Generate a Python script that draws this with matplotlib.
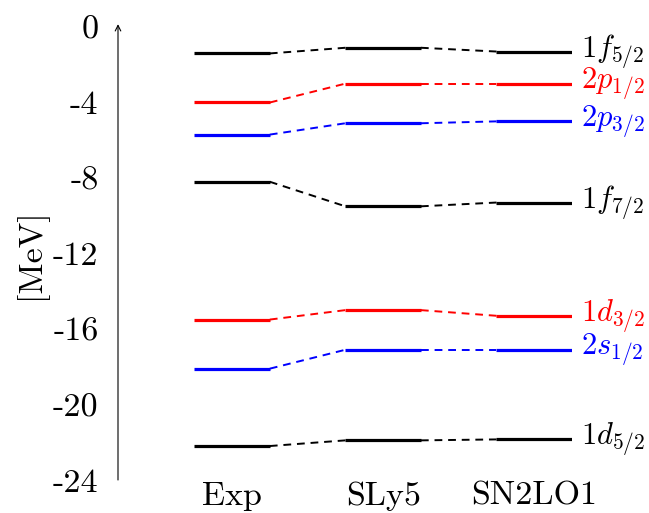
import matplotlib

matplotlib.use("Agg")
import matplotlib.pyplot as plt

plt.rcParams["mathtext.fontset"] = "cm"
plt.rcParams["font.family"] = "cmr10"
plt.rcParams["axes.unicode_minus"] = False

# single-particle levels [MeV], columns: Exp, SLy5, SN2LO1
columns = ["Exp", "SLy5", "SN2LO1"]
states = [
    r"$1f_{5/2}$",
    r"$2p_{1/2}$",
    r"$2p_{3/2}$",
    r"$1f_{7/2}$",
    r"$1d_{3/2}$",
    r"$2s_{1/2}$",
    r"$1d_{5/2}$",
]
state_colors = ["black", "red", "blue", "black", "red", "blue", "black"]
exp_levels = [-1.4, -4.0, -5.7, -8.2, -15.5, -18.1, -22.2]
sly5_levels = [-1.1, -3.0, -5.1, -9.5, -15.0, -17.1, -21.9]
sn2lo1_levels = [-1.3, -3.0, -5.0, -9.3, -15.3, -17.1, -21.85]
yticks = [0, -4, -8, -12, -16, -20, -24]

FS = 24.5
FS_STATE = 22
half = 0.25  # half width of a level bar

fig = plt.figure(figsize=(6.49, 5.13), dpi=100)
ax = fig.add_axes([118 / 649, 33 / 513, 454 / 649, 453 / 513])
ax.set_xlim(-0.755, 2.25)
ax.set_ylim(-24, 0)

table = [exp_levels, sly5_levels, sn2lo1_levels]
for k, (name, c) in enumerate(zip(states, state_colors)):
    vals = [col[k] for col in table]
    for i, v in enumerate(vals):
        ax.plot([i - half, i + half], [v, v], color=c, lw=2.3, solid_capstyle="butt")
        if i < len(vals) - 1:
            ax.plot([i + half, i + 1 - half], [v, vals[i + 1]], color=c, lw=1.4,
                    dashes=(4, 3))
    ax.text(2 + half + 0.06, vals[-1], name, color=c, fontsize=FS_STATE,
            va="center", ha="left")

for i, name in enumerate(columns):
    ax.text(i, -24.85, name, fontsize=FS, ha="center", va="center")

for side in ["top", "right", "bottom", "left"]:
    ax.spines[side].set_visible(False)
ax.annotate("", xy=(-0.755, 0.15), xytext=(-0.755, -24),
            arrowprops=dict(arrowstyle="->", lw=0.8, color="black",
                            shrinkA=0, shrinkB=0), annotation_clip=False)
ax.set_xticks([])
ax.set_yticks(yticks)
ax.set_yticklabels([str(t) for t in yticks], fontsize=FS)
ax.tick_params(axis="y", length=0, pad=14)
ax.set_ylabel("[MeV]", fontsize=FS, labelpad=4)

fig.savefig("out.png", dpi=100)
